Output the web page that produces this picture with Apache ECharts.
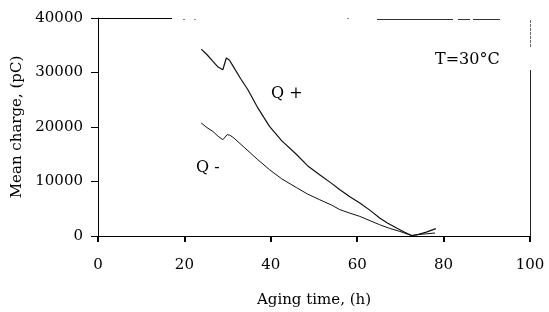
<!DOCTYPE html>
<html>
<head>
<meta charset="utf-8">
<script src="https://cdn.jsdelivr.net/npm/echarts@6/dist/echarts.min.js"></script>
<style>html,body{margin:0;padding:0;background:#fff}#c{width:549px;height:312px}</style>
</head>
<body>
<div id="c"></div>
<script>
// Data
const xTicks = [0, 20, 40, 60, 80, 100];
const yTicks = [0, 10000, 20000, 30000, 40000];
const qPlusTime = [23.9,25.2,26.6,27.8,28.9,29.7,30.4,31.3,33,34.7,37,39.7,42.5,45.9,48.5,51.3,54,56,58.3,60.6,63,65.2,67,69.1,71,72.7,74,76,78.2];
const qPlusCharge = [34300,33300,32040,31000,30500,32660,32300,31120,28900,26840,23500,20110,17500,15000,12900,11250,9700,8500,7200,6060,4700,3300,2400,1470,700,50,250,700,1350];
const qMinusTime = [23.9,25.2,26.6,27.8,28.9,29.9,30.5,31.3,34,37,39.7,42.5,45.9,48.5,51.3,54,56,58.3,60.6,63,65.2,67.5,69.9,72.5,74.5,76,78];
const qMinusCharge = [20730,19900,19190,18300,17670,18600,18500,18090,16150,14000,12170,10500,8900,7700,6660,5700,4830,4200,3600,2800,2070,1400,840,100,300,400,550];

const font = 'DejaVu Serif';
const chart = echarts.init(document.getElementById('c'));
const zip = (a, b) => a.map((v, i) => [v, b[i]]);
chart.setOption({
  animation: false,
  backgroundColor: '#fff',
  grid: { left: 98, right: 19, top: 18, bottom: 76, containLabel: false, outerBoundsMode: 'none' },
  xAxis: {
    type: 'value', min: xTicks[0], max: xTicks[xTicks.length-1], interval: 20,
    name: 'Aging time, (h)', nameLocation: 'middle', nameGap: 57,
    nameTextStyle: { fontFamily: font, fontSize: 15, color: '#000' },
    axisLine: { show: true, lineStyle: { color: '#000', width: 1 } },
    axisTick: { show: true, inside: false, length: 6, lineStyle: { color: '#000', width: 2 } },
    axisLabel: { fontFamily: font, fontSize: 15, color: '#000', margin: 22, formatter: v => String(v) },
    splitLine: { show: false }
  },
  yAxis: {
    type: 'value', min: yTicks[0], max: yTicks[yTicks.length-1], interval: 10000,
    name: 'Mean charge, (pC)', nameLocation: 'middle', nameGap: 65,
    nameTextStyle: { fontFamily: font, fontSize: 15, color: '#000' },
    axisLine: { show: true, lineStyle: { color: '#000', width: 1 } },
    axisTick: { show: true, inside: false, length: 7, lineStyle: { color: '#000', width: 1 } },
    axisLabel: { fontFamily: font, fontSize: 15, color: '#000', margin: 15, formatter: v => String(v) },
    splitLine: { show: false }
  },
  series: [
    { name: 'Q +', type: 'line', data: zip(qPlusTime, qPlusCharge), showSymbol: false, smooth: false,
      lineStyle: { color: '#111', width: 1.2 } },
    { name: 'Q -', type: 'line', data: zip(qMinusTime, qMinusCharge), showSymbol: false, smooth: false,
      lineStyle: { color: '#111', width: 1 } }
  ],
  graphic: [
    { type: 'line', shape: { x1: 92, y1: 18.5, x2: 172, y2: 18.5 }, style: { stroke: '#000', lineWidth: 1 } },
    { type: 'line', shape: { x1: 183, y1: 19.5, x2: 185, y2: 19.5 }, style: { stroke: '#888', lineWidth: 1 } },
    { type: 'line', shape: { x1: 194, y1: 19.5, x2: 196, y2: 19.5 }, style: { stroke: '#888', lineWidth: 1 } },
    { type: 'line', shape: { x1: 347, y1: 18.5, x2: 349, y2: 18.5 }, style: { stroke: '#888', lineWidth: 1 } },
    { type: 'line', shape: { x1: 377, y1: 19.5, x2: 453, y2: 19.5 }, style: { stroke: '#333', lineWidth: 1 } },
    { type: 'line', shape: { x1: 458, y1: 19.5, x2: 470, y2: 19.5 }, style: { stroke: '#333', lineWidth: 1 } },
    { type: 'line', shape: { x1: 473, y1: 19.5, x2: 500, y2: 19.5 }, style: { stroke: '#333', lineWidth: 1 } },
    { type: 'line', shape: { x1: 530.5, y1: 20, x2: 530.5, y2: 48 }, style: { stroke: '#666', lineWidth: 1, lineDash: [3, 1] } },
    { type: 'line', shape: { x1: 530.5, y1: 70, x2: 530.5, y2: 237 }, style: { stroke: '#222', lineWidth: 1 } },
    { type: 'text', left: 435, top: 52, style: { text: 'T=30°C', fontFamily: font, fontSize: 16, fill: '#000' } },
    { type: 'text', left: 271, top: 86, style: { text: 'Q +', fontFamily: font, fontSize: 16, fill: '#000' } },
    { type: 'text', left: 196, top: 160, style: { text: 'Q -', fontFamily: font, fontSize: 16, fill: '#000' } }
  ]
});
</script>
</body>
</html>
